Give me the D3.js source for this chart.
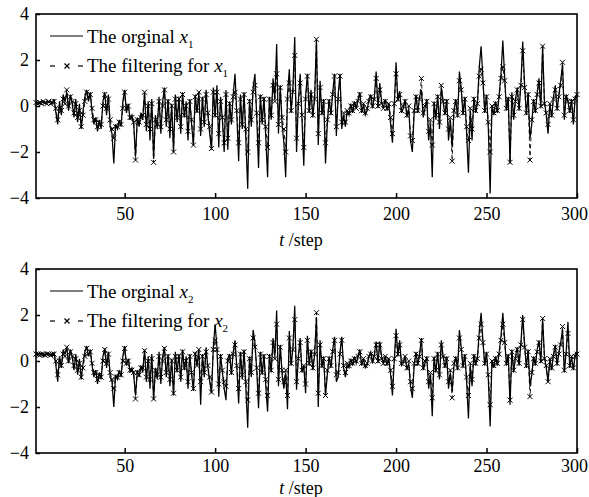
<!DOCTYPE html>
<html>
<head>
<meta charset="utf-8">
<script src="https://cdn.jsdelivr.net/npm/d3@7"></script>
<style>
  body { margin: 0; background: #fff; }
  text { font-family: "Liberation Serif", "DejaVu Serif", "Times New Roman", serif; fill: #000; }
</style>
</head>
<body>
<script>
// time steps and tick labels
const steps = d3.range(1, 301);
const xTicks = [50, 100, 150, 200, 250, 300];
const yTicks = [4, 2, 0, -2, -4];

// panel 1 : x1
const x1Orig = [
  0.1, 0.15, 0.1, 0.2, 0.15, 0.1, 0.2, 0.15, 0.2, 0.1,
  0.3, -0.3, -0.8, 0.2, -0.4, 0.5, 0.2, 0.6, -0.2, 0.5,
  0.1, -0.5, 0.3, -0.7, 0.1, -1.0, -0.2, 0.4, 0.7, 0.2,
  0.6, -0.3, -0.8, -0.5, -1.1, -0.6, -1.0, 0.2, 0.6, -0.4,
  0.5, -0.9, -1.2, -2.5, -0.8, -1.0, -0.6, -0.9, 0.2, 0.7,
  -0.3, 0.1, -0.6, -0.4, -0.8, -2.2, -0.5, -0.9, -0.3, -0.6,
  0.6, -1.1, 0.2, -1.5, 0.3, -2.3, -0.4, -1.0, 0.4, -1.2,
  0.2, 0.8, -0.9, 0.3, -1.4, 0.1, -2.0, 0.5, -0.7, 0.4,
  -1.2, 0.6, -0.5, 0.2, -1.5, 0.3, -0.8, -1.7, 0.5, -0.3,
  0.6, -1.3, 0.4, -0.9, 0.7, -0.4, -1.2, -1.9, 0.8, -0.5,
  0.9, -1.8, 0.4, -0.6, -2.0, 0.7, -1.9, 0.2, -0.8, 0.5,
  1.4, -0.4, -2.4, 0.5, -1.0, 0.6, -1.5, -3.6, 0.3, -0.9,
  0.8, 1.4, -0.5, -2.7, 0.5, -0.8, 0.4, -1.4, -3.1, 0.4,
  -0.6, 1.2, 0.3, 2.7, -1.2, 0.9, -0.8, -1.6, -3.1, 0.5,
  1.6, -0.3, 0.8, 3.0, -2.0, 0.2, 1.4, -0.6, -2.6, 0.4,
  1.4, -0.3, 0.7, -0.5, 0.4, 2.9, -1.7, 1.1, -0.4, 0.3,
  -2.5, -0.8, 0.3, -0.4, 0.6, 1.4, -1.3, 0.5, 1.4, -1.0,
  -0.4, -0.9, -0.2, -0.4, 0.1, -0.3, 0.2, -0.1, 0.3, 0.6,
  -0.3, 0.1, -0.4, -0.2, 0.3, 0.5, -0.1, 0.4, 1.5, -0.1,
  1.0, 0.2, -0.1, 0.3, -0.2, 0.1, -0.8, -1.6, 0.0, 1.9,
  0.2, 0.65, -0.3, -0.1, 0.3, -0.5, -0.1, -1.5, -2.0, -0.3,
  0.5, -0.3, 0.4, 0.7, -0.5, -0.1, 0.3, -1.5, -0.8, -3.1,
  0.2, -0.6, 0.5, -1.0, 0.8, 0.2, -0.4, 0.3, -1.5, -0.6,
  -1.8, -0.2, 0.3, -0.5, 1.5, 0.8, -0.4, 0.4, -1.2, -2.9,
  -0.2, -1.5, 0.4, -0.3, 0.2, 1.7, 2.6, 1.2, -0.3, 0.5,
  -1.0, -3.8, 0.0, -0.4, 0.2, -0.3, 0.5, 1.4, 2.85, 1.3,
  -0.2, 0.4, -2.5, 0.6, -0.6, 0.3, 0.8, -0.2, 1.0, 2.8,
  1.0, -0.4, 0.6, -1.4, -0.8, 0.3, -0.3, 0.6, 1.2, -0.1,
  2.6, 0.2, -0.4, -1.2, 0.1, -0.5, 0.4, 0.9, -0.2, 0.5,
  1.1, 1.8, -0.6, 0.5, 0.2, -0.3, 0.3, -0.8, 0.4, 0.5
];
const x1Filt = [
  0.15, 0.1, 0.15, 0.1, 0.2, 0.15, 0.1, 0.2, 0.1, 0.15,
  0.2, -0.1, -0.6, -0.1, -0.2, 0.3, 0.1, 0.7, 0.0, 0.4,
  0.2, -0.3, 0.1, -0.5, -0.2, -0.9, -0.4, 0.2, 0.6, 0.4,
  0.5, -0.1, -0.6, -0.6, -0.9, -0.7, -0.8, 0.0, 0.5, -0.1,
  0.3, -0.6, -1.0, -1.4, -0.9, -0.9, -0.7, -0.8, -0.1, 0.6,
  -0.1, 0.0, -0.5, -0.5, -0.7, -2.35, -0.6, -0.7, -0.5, -0.4,
  0.6, -0.8, 0.0, -1.0, 0.1, -2.45, -0.6, -0.8, 0.2, -0.9,
  0.0, 0.7, -0.6, 0.2, -1.0, 0.0, -2.0, 0.3, -0.5, 0.3,
  -0.9, 0.5, -0.4, 0.0, -1.1, 0.2, -0.6, -1.7, 0.4, -0.2,
  0.6, -1.0, 0.3, -0.7, 0.5, -0.3, -0.9, -1.85, 0.6, -0.4,
  0.6, -1.2, 0.2, -0.5, -1.6, 0.5, -1.4, 0.1, -0.6, 0.4,
  0.6, -0.2, -1.6, 0.3, -0.8, 0.5, -1.0, -2.0, 0.2, -0.6,
  0.6, 0.9, -0.3, -1.6, 0.4, -0.6, 0.3, -0.9, -1.8, 0.3,
  -0.4, 0.9, 0.2, 1.4, -0.8, 0.8, -0.5, -1.0, -2.0, 0.3,
  1.0, -0.2, 0.6, 2.2, -1.4, 0.1, 1.0, -0.4, -1.8, 0.3,
  1.3, -0.2, 0.5, -0.4, 0.3, 2.9, -1.2, 0.8, -0.3, 0.2,
  -1.6, -0.6, 0.2, -0.3, 0.5, 1.3, -0.9, 0.3, 1.3, -0.7,
  -0.3, -0.7, -0.2, -0.3, 0.0, -0.2, 0.1, -0.1, 0.2, 0.5,
  -0.2, 0.1, -0.3, -0.1, 0.2, 0.4, 0.0, 0.3, 1.2, 0.0,
  0.7, 0.1, -0.1, 0.2, -0.1, 0.1, -0.5, -1.2, 0.1, 1.4,
  0.3, 0.5, -0.2, 0.0, 0.2, -0.4, 0.0, -1.3, -1.5, -0.2,
  0.4, -0.2, 0.3, 1.2, -0.3, 0.0, 0.2, -1.1, -0.6, -1.7,
  0.1, -0.4, 0.4, -0.7, 0.9, 0.2, -0.3, 0.2, -1.0, -0.5,
  -2.4, -0.2, 0.2, -0.4, 1.1, 0.7, -0.3, 0.3, -0.9, -1.5,
  -0.1, -1.0, 0.3, -0.2, 0.1, 1.3, 1.6, 1.0, -0.2, 0.4,
  -0.7, -2.0, 0.0, -0.3, 0.1, -0.2, 0.4, 1.2, 1.7, 1.1,
  -0.1, 0.3, -2.45, 0.4, -0.4, 0.2, 0.7, -0.1, 0.9, 2.4,
  0.8, -0.3, 0.5, -2.35, -0.6, 0.2, -0.2, 0.5, 1.0, 0.0,
  2.6, 0.1, -0.3, -0.8, 0.1, -0.4, 0.3, 0.7, -0.1, 0.4,
  0.9, 1.9, -0.4, 0.4, 0.2, -0.2, 0.2, -0.6, 0.3, 0.5
];

// panel 2 : x2
const x2Orig = [
  0.3, 0.25, 0.35, 0.3, 0.2, 0.3, 0.35, 0.25, 0.3, 0.2,
  0.35, -0.2, -0.9, 0.2, -0.3, 0.5, 0.3, 0.6, -0.1, 0.5,
  0.2, -0.4, 0.3, -0.6, 0.1, -0.8, -0.1, 0.4, 0.65, 0.2,
  0.5, -0.2, -0.7, -0.4, -1.0, -0.5, -0.8, 0.2, 0.55, -0.3,
  0.4, -0.7, -0.9, -2.0, -0.6, -0.8, -0.4, -0.7, 0.2, 0.65,
  -0.2, 0.1, -0.5, -0.3, -0.6, -1.5, -0.4, -0.7, -0.2, -0.5,
  0.5, -0.9, 0.2, -1.2, 0.3, -1.7, -0.3, -0.8, 0.4, -1.0,
  0.2, 0.6, -0.7, 0.3, -1.1, 0.1, -1.5, 0.4, -0.5, 0.3,
  -0.9, 0.5, -0.4, 0.2, -1.2, 0.3, -0.6, -1.3, 0.4, -0.2,
  0.5, -1.9, 0.3, -0.7, 0.6, -0.3, -0.9, -1.4, 0.6, 1.6,
  0.6, -1.55, 0.3, -0.5, -1.2, -1.7, 0.1, 0.3, -0.6, 0.4,
  0.9, -0.3, -1.85, 0.4, -0.8, 0.5, -1.2, -2.9, 0.2, -0.7,
  1.35, 0.8, -0.4, -2.05, 0.4, -0.6, 0.3, -1.1, -2.2, 0.3,
  -0.5, 1.0, 0.2, 2.2, -1.1, 0.7, -0.6, -1.2, -0.5, -2.1,
  1.3, -0.2, 0.6, 2.4, -1.25, 0.2, 1.0, -0.5, -0.2, -1.4,
  1.1, -0.2, 0.5, -0.4, 0.3, 1.9, -2.0, 0.9, -0.3, 0.2,
  -1.5, -0.6, 0.2, -0.3, 0.5, 1.05, -0.9, -0.7, 0.4, 1.05,
  -0.3, -0.7, -0.2, -0.3, 0.1, -0.2, 0.2, -0.1, 0.2, 0.5,
  -0.2, 0.1, -0.3, -0.2, 0.2, 0.4, -0.1, 0.3, 0.85, -0.1,
  0.85, 0.2, -0.1, 0.2, -0.2, 0.1, -0.6, -1.5, 0.0, 1.4,
  0.2, 0.9, -0.2, -0.1, 0.2, -0.4, -0.1, -1.1, -1.6, -0.2,
  0.4, -0.2, 0.3, 1.0, -0.4, -0.1, 0.2, -1.2, -0.6, -2.4,
  0.2, -0.5, 0.4, -0.8, 0.9, 0.2, -0.3, 0.2, -1.2, -0.5,
  -1.3, -0.2, 0.2, -0.4, 1.35, 0.6, -0.3, 0.3, -0.9, -2.5,
  -0.2, -1.1, 0.3, -0.2, 0.2, 1.3, 2.1, 0.9, -0.2, 0.4,
  -0.8, -2.85, 0.0, -0.3, 0.2, -0.2, 0.4, 1.1, 2.1, 1.0,
  -0.2, 0.3, -1.9, 0.5, -0.5, 0.2, 0.6, -0.2, 0.8, 2.0,
  0.8, -0.3, 0.5, -1.1, -0.6, 0.2, -0.2, 0.5, 0.9, -0.1,
  1.85, 0.2, -0.3, -0.9, 0.1, -0.4, 0.3, 0.7, -0.2, 0.4,
  0.8, 1.35, -0.5, 0.4, 1.7, -0.3, 0.2, -0.4, 0.3, 0.4
];
const x2Filt = [
  0.3, 0.3, 0.25, 0.3, 0.3, 0.25, 0.3, 0.3, 0.25, 0.3,
  0.3, 0.0, -0.6, 0.0, -0.2, 0.3, 0.2, 0.6, 0.0, 0.4,
  0.2, -0.2, 0.1, -0.4, -0.1, -0.7, -0.3, 0.2, 0.55, 0.3,
  0.4, -0.1, -0.5, -0.5, -0.8, -0.6, -0.7, 0.0, 0.5, -0.1,
  0.3, -0.5, -0.8, -1.2, -0.7, -0.7, -0.5, -0.6, 0.0, 0.55,
  -0.1, 0.0, -0.4, -0.4, -0.5, -1.65, -0.5, -0.6, -0.3, -0.3,
  0.45, -0.7, 0.0, -0.8, 0.1, -1.65, -0.4, -0.6, 0.2, -0.7,
  0.0, 0.55, -0.5, 0.2, -0.8, 0.0, -1.4, 0.2, -0.4, 0.2,
  -0.7, 0.4, -0.3, 0.0, -0.9, 0.2, -0.5, -1.2, 0.3, -0.2,
  0.5, -0.9, 0.2, -0.5, 0.4, -0.2, -0.7, -1.35, 0.5, 0.9,
  0.5, -1.0, 0.2, -0.4, -0.9, -1.1, 0.0, 0.2, -0.5, 0.3,
  0.7, -0.2, -1.2, 0.3, -0.6, 0.4, -0.9, -1.7, 0.1, -0.5,
  1.0, 0.6, -0.3, -1.4, 0.3, -0.5, 0.2, -0.8, -1.5, 0.2,
  -0.4, 0.8, 0.1, 1.6, -0.8, 0.6, -0.4, -0.9, -0.4, -1.5,
  1.0, -0.1, 0.5, 1.8, -0.9, 0.1, 0.8, -0.4, -0.2, -1.0,
  0.9, -0.1, 0.4, -0.3, 0.3, 2.1, -1.4, 0.7, -0.2, 0.1,
  -1.5, -0.4, 0.1, -0.2, 0.4, 0.9, -0.6, -0.5, 0.3, 0.9,
  -0.2, -0.5, -0.1, -0.2, 0.0, -0.1, 0.1, 0.0, 0.2, 0.4,
  -0.1, 0.1, -0.2, -0.1, 0.2, 0.3, 0.0, 0.2, 0.7, 0.0,
  0.7, 0.1, -0.1, 0.2, -0.1, 0.1, -0.4, -1.1, 0.1, 1.1,
  0.3, 0.7, -0.1, 0.0, 0.2, -0.3, 0.0, -0.9, -1.2, -0.1,
  0.3, -0.1, 0.2, 0.9, -0.3, 0.0, 0.1, -0.9, -0.5, -1.6,
  0.1, -0.4, 0.3, -0.6, 0.7, 0.2, -0.2, 0.1, -0.9, -0.4,
  -1.6, -0.1, 0.1, -0.3, 1.0, 0.5, -0.2, 0.2, -0.7, -1.5,
  -0.1, -0.8, 0.2, -0.1, 0.1, 1.0, 1.6, 0.8, -0.1, 0.3,
  -0.6, -1.9, 0.0, -0.2, 0.1, -0.1, 0.3, 0.9, 1.6, 0.8,
  -0.1, 0.2, -1.7, 0.4, -0.4, 0.1, 0.5, -0.1, 0.7, 1.8,
  0.6, -0.2, 0.4, -1.55, -0.5, 0.1, -0.1, 0.4, 0.8, 0.0,
  1.85, 0.1, -0.2, -0.9, 0.1, -0.3, 0.2, 0.6, -0.1, 0.3,
  0.7, 1.5, -0.4, 0.3, 1.2, -0.2, 0.2, -0.3, 0.2, 0.3
];

const W = 589, H = 497;
const left = 36, right = 577, plotH = 184;
const serif = '"Liberation Serif", "DejaVu Serif", "Times New Roman", serif';

const svg = d3.select('body').append('svg')
              .attr('width', W)
              .attr('height', H);

const x = d3.scaleLinear().domain([1, 300]).range([left, right]);
const minus = d => d < 0 ? '\u2212' + Math.abs(d) : String(d);
const m = 2.5; // half size of the x marker
const cross = (cx, cy) => `M${cx - m},${cy - m}L${cx + m},${cy + m}M${cx - m},${cy + m}L${cx + m},${cy - m}`;

function drawPanel(top, orig, filt, sub, tickPad, titleGap) {
    const y = d3.scaleLinear().domain([-4, 4]).range([top + plotH, top]);
    const g = svg.append('g');

    const line = d3.line()
                   .x((d, i) => x(steps[i]))
                   .y(d => y(d));

    // filtered: dashed line with x markers
    g.append('path')
     .datum(filt)
     .attr('d', line)
     .attr('fill', 'none')
     .attr('stroke', '#000')
     .attr('stroke-width', 0.9)
     .attr('stroke-dasharray', '4,3');

    g.append('g')
     .selectAll('path')
     .data(filt)
     .enter()
     .append('path')
     .attr('d', (d, i) => cross(x(steps[i]), y(d)))
     .attr('stroke', '#000')
     .attr('stroke-width', 1);

    // original: solid line
    g.append('path')
     .datum(orig)
     .attr('d', line)
     .attr('fill', 'none')
     .attr('stroke', '#000')
     .attr('stroke-width', 1.25);

    // axes with inward ticks
    const xAxis = d3.axisBottom(x).tickValues(xTicks).tickSize(-5).tickPadding(tickPad);
    const gx = g.append('g')
                .attr('class', 'axis')
                .attr('transform', `translate(0,${top + plotH})`)
                .call(xAxis);
    // keep the last label inside the page
    gx.selectAll('.tick text').filter(d => d === 300).attr('dx', -3);

    const yAxis = d3.axisLeft(y).tickValues(yTicks).tickSize(-4).tickPadding(7).tickFormat(minus);
    g.append('g')
     .attr('class', 'axis')
     .attr('transform', `translate(${left},0)`)
     .call(yAxis);

    g.selectAll('.axis').attr('font-family', serif);
    g.selectAll('.axis .domain').remove();
    g.selectAll('.axis line').attr('stroke-width', 1.5);
    g.selectAll('.axis text')
     .attr('font-family', serif)
     .attr('font-size', 18);

    g.append('rect')
     .attr('x', left)
     .attr('y', top)
     .attr('width', right - left)
     .attr('height', plotH)
     .attr('fill', 'none')
     .attr('stroke', '#000')
     .attr('stroke-width', 1.6);

    // axis title
    const t = g.append('text')
               .attr('x', 301)
               .attr('y', top + plotH + titleGap)
               .attr('text-anchor', 'middle')
               .attr('font-family', serif)
               .attr('font-size', 18);
    t.append('tspan').attr('font-style', 'italic').text('t');
    t.append('tspan').text(' /step');

    // legend
    const lx = 50;
    g.append('line')
     .attr('x1', lx).attr('x2', lx + 33)
     .attr('y1', top + 22).attr('y2', top + 22)
     .attr('stroke', '#000').attr('stroke-width', 1.2);
    [[lx, lx + 5], [lx + 28, lx + 33]].forEach(([a, b]) => {
        g.append('line')
         .attr('x1', a).attr('x2', b)
         .attr('y1', top + 52).attr('y2', top + 52)
         .attr('stroke', '#000').attr('stroke-width', 1.2);
    });
    g.append('path')
     .attr('d', cross(lx + 17, top + 52))
     .attr('stroke', '#000').attr('stroke-width', 1.2);

    const labels = ['The orginal ', 'The filtering for '];
    labels.forEach((s, k) => {
        const tx = g.append('text')
                    .attr('x', lx + 37)
                    .attr('y', top + 29 + k * 29)
                    .attr('font-family', serif)
                    .attr('font-size', 19);
        tx.append('tspan').text(s);
        tx.append('tspan').attr('font-style', 'italic').text('x');
        tx.append('tspan').attr('font-size', 11).attr('dy', 5).text(sub);
    });
}

drawPanel(14, x1Orig, x1Filt, '1', 9, 48);
drawPanel(269, x2Orig, x2Filt, '2', 6, 41);
</script>
</body>
</html>
